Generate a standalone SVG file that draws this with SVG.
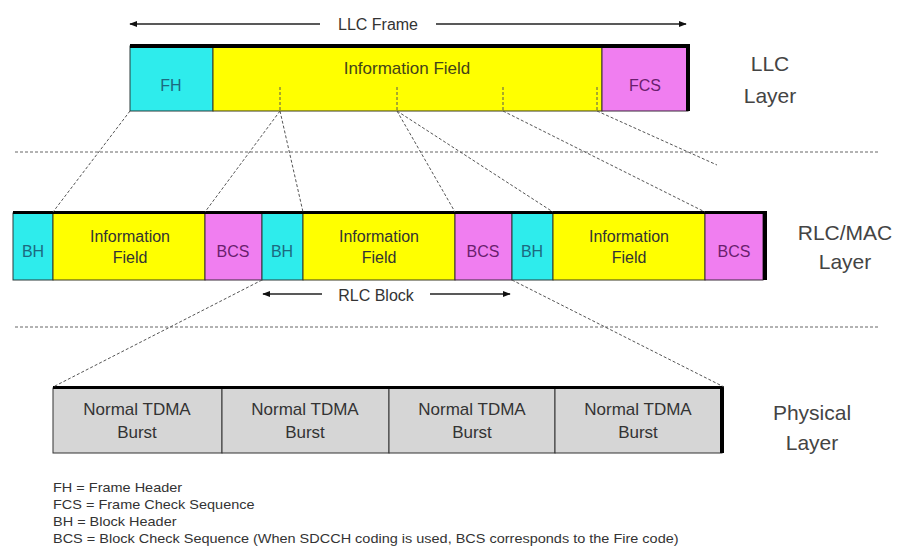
<svg xmlns="http://www.w3.org/2000/svg" width="901" height="555" viewBox="0 0 901 555">
<defs>
<marker id="ah" viewBox="0 0 10 10" refX="9" refY="5" markerWidth="8" markerHeight="8" markerUnits="userSpaceOnUse" orient="auto-start-reverse">
<path d="M0,1 L10,5 L0,9 z" fill="#111"/>
</marker>
<style>
text{font-family:"Liberation Sans",Arial,sans-serif;fill:#333}
.cy{fill:#2eecec;stroke:#2a3a3a;stroke-width:1}
.ye{fill:#ffff00;stroke:#3a3a20;stroke-width:1}
.pk{fill:#f07ef0;stroke:#3a2a3a;stroke-width:1}
.gr{fill:#d6d6d6;stroke:#333;stroke-width:1}
.bar{fill:#000}
.lbl{font-size:16px;text-anchor:middle}
.cyt{fill:#1c6a80}
.pkt{fill:#6a1e6e}
.lay{font-size:21px;text-anchor:middle;fill:#444}
.leg{font-size:13px;fill:#333}
.dash{stroke:#555;stroke-width:1;stroke-dasharray:3 2;fill:none}
.sep{stroke:#666;stroke-width:1;stroke-dasharray:3 2;fill:none}
.arr{stroke:#222;stroke-width:1.3;fill:none}
</style>
</defs>
<rect width="901" height="555" fill="#fff"/>

<g id="separators">
<line class="sep" x1="15" y1="152" x2="880" y2="152"/>
<line class="sep" x1="15" y1="327" x2="880" y2="327"/>
</g>

<g id="llc-frame-dim">
<line class="arr" x1="130" y1="24" x2="320" y2="24" marker-start="url(#ah)"/>
<line class="arr" x1="436" y1="24" x2="686" y2="24" marker-end="url(#ah)"/>
<text class="lbl" x="378" y="30">LLC Frame</text>
</g>

<g id="llc-frame">
<rect class="cy" x="130" y="46" width="83" height="65"/>
<rect class="ye" x="213" y="46" width="389" height="65"/>
<rect class="pk" x="602" y="46" width="86" height="65"/>
<rect class="bar" x="130" y="44" width="560" height="4"/>
<rect class="bar" x="686" y="44" width="4" height="67"/>
<text class="lbl cyt" x="171" y="91">FH</text>
<text class="lbl" x="407" y="74" style="fill:#444418;font-size:17px">Information Field</text>
<text class="lbl pkt" x="645" y="91">FCS</text>
</g>

<g id="llc-layer-label">
<text class="lay" x="770" y="71">LLC</text>
<text class="lay" x="770" y="103">Layer</text>
</g>

<g id="rlc-blocks">
<rect class="cy" x="13" y="213" width="40" height="67"/>
<rect class="ye" x="53" y="213" width="152" height="67"/>
<rect class="pk" x="205" y="213" width="57" height="67"/>
<rect class="cy" x="262" y="213" width="41" height="67"/>
<rect class="ye" x="303" y="213" width="152" height="67"/>
<rect class="pk" x="455" y="213" width="57" height="67"/>
<rect class="cy" x="512" y="213" width="41" height="67"/>
<rect class="ye" x="553" y="213" width="152" height="67"/>
<rect class="pk" x="705" y="213" width="58" height="67"/>
<rect class="bar" x="13" y="211" width="754" height="3"/>
<rect class="bar" x="763" y="211" width="4" height="69"/>
<text class="lbl cyt" x="33" y="257">BH</text>
<text class="lbl" x="130" y="242">Information</text>
<text class="lbl" x="130" y="263">Field</text>
<text class="lbl pkt" x="233" y="257">BCS</text>
<text class="lbl cyt" x="282" y="257">BH</text>
<text class="lbl" x="379" y="242">Information</text>
<text class="lbl" x="379" y="263">Field</text>
<text class="lbl pkt" x="483" y="257">BCS</text>
<text class="lbl cyt" x="532" y="257">BH</text>
<text class="lbl" x="629" y="242">Information</text>
<text class="lbl" x="629" y="263">Field</text>
<text class="lbl pkt" x="734" y="257">BCS</text>
</g>

<g id="rlc-layer-label">
<text class="lay" x="845" y="240">RLC/MAC</text>
<text class="lay" x="845" y="269">Layer</text>
</g>

<g id="rlc-block-dim">
<line class="arr" x1="263" y1="294" x2="322" y2="294" marker-start="url(#ah)"/>
<line class="arr" x1="430" y1="294" x2="510" y2="294" marker-end="url(#ah)"/>
<text class="lbl" x="376" y="301">RLC Block</text>
</g>

<g id="physical-bursts">
<rect class="gr" x="53" y="388" width="169" height="65"/>
<rect class="gr" x="222" y="388" width="167" height="65"/>
<rect class="gr" x="389" y="388" width="166" height="65"/>
<rect class="gr" x="555" y="388" width="167" height="65"/>
<rect class="bar" x="53" y="386" width="671" height="3"/>
<rect class="bar" x="720" y="386" width="4" height="67"/>
<text class="lbl" x="137" y="415" style="font-size:17px">Normal TDMA</text>
<text class="lbl" x="137" y="438" style="font-size:17px">Burst</text>
<text class="lbl" x="305" y="415" style="font-size:17px">Normal TDMA</text>
<text class="lbl" x="305" y="438" style="font-size:17px">Burst</text>
<text class="lbl" x="472" y="415" style="font-size:17px">Normal TDMA</text>
<text class="lbl" x="472" y="438" style="font-size:17px">Burst</text>
<text class="lbl" x="638" y="415" style="font-size:17px">Normal TDMA</text>
<text class="lbl" x="638" y="438" style="font-size:17px">Burst</text>
</g>

<g id="physical-layer-label">
<text class="lay" x="812" y="420">Physical</text>
<text class="lay" x="812" y="450">Layer</text>
</g>

<g id="connectors">
<line class="dash" x1="280" y1="87" x2="280" y2="111"/>
<line class="dash" x1="397" y1="87" x2="397" y2="111"/>
<line class="dash" x1="503" y1="87" x2="503" y2="111"/>
<line class="dash" x1="597" y1="87" x2="597" y2="111"/>
<line class="dash" x1="130" y1="111" x2="53" y2="212"/>
<line class="dash" x1="280" y1="111" x2="205" y2="212"/>
<line class="dash" x1="280" y1="111" x2="303" y2="212"/>
<line class="dash" x1="397" y1="111" x2="455" y2="212"/>
<line class="dash" x1="397" y1="111" x2="553" y2="212"/>
<line class="dash" x1="503" y1="111" x2="705" y2="212"/>
<line class="dash" x1="597" y1="111" x2="717" y2="165"/>
<line class="dash" x1="262" y1="280" x2="53" y2="387"/>
<line class="dash" x1="512" y1="280" x2="724" y2="387"/>
</g>

<g id="legend" transform="translate(53,0) scale(1.115,1)">
<text class="leg" x="0" y="492">FH = Frame Header</text>
<text class="leg" x="0" y="509">FCS = Frame Check Sequence</text>
<text class="leg" x="0" y="526">BH = Block Header</text>
<text class="leg" x="0" y="543">BCS = Block Check Sequence (When SDCCH coding is used, BCS corresponds to the Fire code)</text>
</g>
</svg>
